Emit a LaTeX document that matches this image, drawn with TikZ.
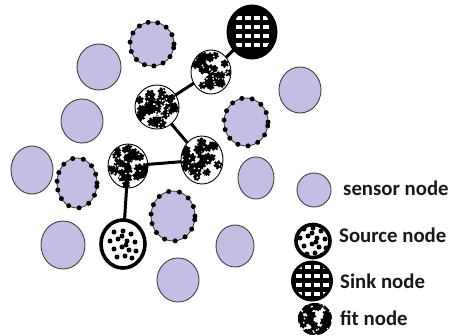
\documentclass[tikz,border=0pt]{standalone}
\usepackage{fontspec}
\setmainfont{Carlito}
\usetikzlibrary{shapes.geometric}
\definecolor{lav}{RGB}{196,190,228}
\definecolor{txt}{RGB}{25,25,25}
\tikzset{
  basenode/.style={ellipse, inner sep=0pt, outer sep=0pt},
  sensornode/.style={basenode, draw=black!75, line width=0.9pt, fill=lav},
  dotnode/.style={sensornode},
  fitnode/.style 2 args={basenode, draw=black, line width=0.9pt, fill=white,
    path picture={
      \begin{scope}[shift={(path picture bounding box.center)}, scale=#2]
        \pgfmathsetseed{#1}
        \foreach \k in {1,...,34}{
          \pgfmathsetmacro\ang{360*rnd}
          \pgfmathsetmacro\rad{19*sqrt(rnd)}
          \pgfmathsetmacro\sz{2.2+1.8*rnd}
          \fill[black] (\ang:\rad) circle (\sz pt);
          \foreach \j in {0,60,...,300} \fill[black] (\ang:\rad) ++(\j+\ang:\sz pt) circle (1.4pt);
        }
        \foreach \k in {1,...,22}{
          \pgfmathsetmacro\ang{360*rnd}
          \pgfmathsetmacro\rad{18*sqrt(rnd)}
          \fill[white] (\ang:\rad) circle (1pt);
        }
      \end{scope}
    }},
  srcnode/.style={basenode, draw=black, line width=3.6pt, fill=white,
    path picture={
      \begin{scope}[shift={(path picture bounding box.center)}, scale=#1]
        \foreach \p in {(-9,-12),(0,-13),(8,-10),(-13,-3),(-5,-5),(4,-3),(12,-2),
                        (-9,5),(-1,3),(6,6),(13,7),(-6,13),(2,12),(9,14),(-1,-8),(3,1)}
          \fill[black] \p circle (2.5pt);
      \end{scope}
    }},
  sinknode/.style={basenode, draw=black, line width=3pt, fill=black,
    path picture={
      \begin{scope}[shift={(path picture bounding box.center)}, scale=#1]
        \clip (0,0) ellipse [x radius=20pt, y radius=22pt];
        \foreach \cx in {-16,-7,2,11}
          \foreach \cy in {-16,-7,2,11}
            \fill[white] (\cx,\cy) rectangle ++(5.5,4);
      \end{scope}
    }},
  link/.style={line width=3pt},
  lbl/.style={anchor=base west, inner sep=0pt, text=txt,
    font=\bfseries\fontsize{20.8}{24}\selectfont}
}
\newcommand\dotring[1]{\foreach \a in {0,25,...,350} \fill (#1.\a) circle (2.5pt);}
\begin{document}
\begin{tikzpicture}[x=1pt, y=-1pt]
\useasboundingbox[fill=white] (0,0) rectangle (452,335);
% sensor nodes
\node[sensornode, minimum width=44pt, minimum height=46pt] (s1) at (99,67) {};
\node[sensornode, minimum width=42pt, minimum height=44pt] (s2) at (82,121) {};
\node[sensornode, minimum width=42pt, minimum height=48pt] (s3) at (32,170) {};
\node[sensornode, minimum width=44pt, minimum height=48pt] (s4) at (63,245) {};
\node[sensornode, minimum width=42pt, minimum height=44pt] (s5) at (178,280) {};
\node[sensornode, minimum width=38pt, minimum height=42pt] (s6) at (235,246) {};
\node[sensornode, minimum width=36pt, minimum height=42pt] (s7) at (256,178) {};
\node[sensornode, minimum width=42pt, minimum height=46pt] (s8) at (300,90) {};
% dotted sensor nodes
\node[dotnode, minimum width=44pt, minimum height=44pt] (d1) at (152,44) {};
\node[dotnode, minimum width=40pt, minimum height=50pt] (d2) at (77,183) {};
\node[dotnode, minimum width=44pt, minimum height=50pt] (d3) at (173,216) {};
\node[dotnode, minimum width=44pt, minimum height=48pt] (d4) at (246,122) {};
\dotring{d1}\dotring{d2}\dotring{d3}\dotring{d4}
% fit nodes
\node[fitnode={11}{1}, minimum width=40pt, minimum height=44pt] (f1) at (211,72) {};
\node[fitnode={23}{1}, minimum width=44pt, minimum height=44pt] (f2) at (157,107) {};
\node[fitnode={37}{1.05}, minimum width=42pt, minimum height=48pt] (f3) at (202,160) {};
\node[fitnode={53}{1}, minimum width=40pt, minimum height=44pt] (f4) at (128,166) {};
% source and sink
\node[srcnode=1, minimum width=44pt, minimum height=48pt] (src) at (123,244) {};
\node[sinknode=1, minimum width=48pt, minimum height=52pt] (snk) at (252,32) {};
% connectors
\draw[link] (snk) -- (f1);
\draw[link] (f1) -- (f2);
\draw[link] (f2) -- (f3);
\draw[link] (f3) -- (f4);
\draw[link] (f4) -- (src);
% legend
\node[sensornode, minimum width=34pt, minimum height=34pt] (ls) at (314,190) {};
\node[srcnode=0.75, minimum width=34pt, minimum height=33pt] (lsrc) at (313,241) {};
\node[sinknode=0.85, minimum width=39pt, minimum height=38pt] (lsnk) at (312,281) {};
\node[fitnode={71}{0.85}, draw=none, minimum width=34pt, minimum height=32pt] (lfit) at (315,319) {};
\node[lbl] (t1) at (343,195) {sensor node};
\node[lbl] (t2) at (339,242) {Source node};
\node[lbl] (t3) at (340,288) {Sink node};
\node[lbl] (t4) at (340,325) {fit node};
\end{tikzpicture}
\end{document}
